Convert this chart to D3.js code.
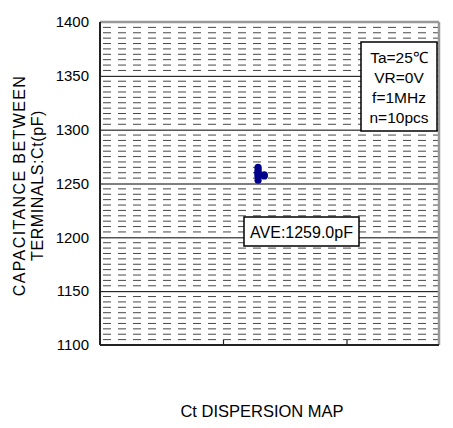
<!DOCTYPE html>
<html>
<head>
<meta charset="utf-8">
<script src="https://cdn.jsdelivr.net/npm/d3@7"></script>
<style>
  body { margin: 0; background: #fff; }
  svg text { font-family: "Liberation Sans", Arial, sans-serif; fill: #000; }
</style>
</head>
<body>
<div id="chart"></div>
<script>
// measured capacitance of the 10 samples (pF) and their x position in the map
const ctValues = [1265, 1263, 1261, 1260, 1259, 1258, 1258, 1257, 1256, 1253];
const sampleX = [1.28, 1.28, 1.28, 1.28, 1.28, 1.33, 1.28, 1.33, 1.28, 1.28];
const yTicks = [1100, 1150, 1200, 1250, 1300, 1350, 1400];
const xTicks = [1, 2];
const conditions = ['Ta=25\u2103', 'VR=0V', 'f=1MHz', 'n=10pcs'];
const aveLabel = 'AVE:1259.0pF';

const width = 453, height = 428;
const margin = { top: 22, right: 14, bottom: 83, left: 100 };

const svg = d3.select('#chart').append('svg')
  .attr('width', width)
  .attr('height', height);

const x = d3.scaleLinear()
  .domain([0, 2.745])
  .range([margin.left, width - margin.right]);

const y = d3.scaleLinear()
  .domain([1100, 1400])
  .range([height - margin.bottom, margin.top]);

// minor dashed grid every 5 pF
const minor = d3.range(1105, 1400, 5).filter(v => v % 50 !== 0);
svg.append('g')
  .selectAll('line')
  .data(minor)
  .join('line')
  .attr('x1', x(0) + 3)
  .attr('x2', x(2.745))
  .attr('y1', d => y(d))
  .attr('y2', d => y(d))
  .attr('stroke', '#333')
  .attr('stroke-width', 0.9)
  .attr('stroke-dasharray', '8,7');

// major solid grid
svg.append('g')
  .selectAll('line')
  .data(yTicks.slice(1, -1))
  .join('line')
  .attr('x1', x(0))
  .attr('x2', x(2.745))
  .attr('y1', d => y(d) + 0.5)
  .attr('y2', d => y(d) + 0.5)
  .attr('stroke', '#000')
  .attr('stroke-width', 1);

// frame: top/right gray, left/bottom dark
svg.append('line').attr('x1', x(0)).attr('x2', x(2.745)).attr('y1', y(1400)).attr('y2', y(1400))
  .attr('stroke', '#999').attr('stroke-width', 2.5);
svg.append('line').attr('x1', x(2.745)).attr('x2', x(2.745)).attr('y1', y(1400)).attr('y2', y(1100))
  .attr('stroke', '#999').attr('stroke-width', 2.5);
svg.append('line').attr('x1', x(0)).attr('x2', x(0)).attr('y1', y(1400)).attr('y2', y(1100))
  .attr('stroke', '#222').attr('stroke-width', 2);
svg.append('line').attr('x1', x(0)).attr('x2', x(2.745)).attr('y1', y(1100)).attr('y2', y(1100))
  .attr('stroke', '#222').attr('stroke-width', 2);

// y axis labels
svg.append('g')
  .attr('transform', `translate(${x(0)},0)`)
  .call(d3.axisLeft(y).tickValues(yTicks).tickSize(0).tickPadding(11).tickFormat(d3.format('d')))
  .call(g => g.select('.domain').remove())
  .call(g => g.selectAll('text').attr('font-size', 15).attr('font-family', '"Liberation Sans", Arial, sans-serif'));

// x ticks (inside, no labels)
svg.append('g')
  .selectAll('line')
  .data(xTicks)
  .join('line')
  .attr('x1', d => x(d))
  .attr('x2', d => x(d))
  .attr('y1', y(1100))
  .attr('y2', y(1100) - 5)
  .attr('stroke', '#222')
  .attr('stroke-width', 1.2);

// data points
svg.append('g')
  .selectAll('circle')
  .data(ctValues)
  .join('circle')
  .attr('cx', (d, i) => x(sampleX[i]))
  .attr('cy', d => y(d))
  .attr('r', 3.6)
  .attr('fill', '#00008b');

// conditions box
const cb = svg.append('g').attr('transform', 'translate(361,42)');
cb.append('rect').attr('width', 76).attr('height', 89)
  .attr('fill', '#fff').attr('stroke', '#000').attr('stroke-width', 1.5);
cb.selectAll('text')
  .data(conditions)
  .join('text')
  .attr('x', 38)
  .attr('y', (d, i) => 21 + i * 20)
  .attr('text-anchor', 'middle')
  .attr('font-size', 15.5)
  .text(d => d);

// average box
const ab = svg.append('g').attr('transform', 'translate(244,217)');
ab.append('rect').attr('width', 115).attr('height', 29)
  .attr('fill', '#fff').attr('stroke', '#000').attr('stroke-width', 1.5);
ab.append('text')
  .attr('x', 57.5)
  .attr('y', 21)
  .attr('text-anchor', 'middle')
  .attr('font-size', 16)
  .text(aveLabel);

// y axis title (two lines)
const cy = (y(1100) + y(1400)) / 2 + 2;
svg.append('text')
  .attr('transform', `translate(25,${cy}) rotate(-90)`)
  .attr('text-anchor', 'middle')
  .attr('font-size', 16)
  .attr('letter-spacing', 1.4)
  .text('CAPACITANCE BETWEEN');
svg.append('text')
  .attr('transform', `translate(43,${cy}) rotate(-90)`)
  .attr('text-anchor', 'middle')
  .attr('font-size', 16)
  .attr('letter-spacing', 0.6)
  .text('TERMINALS:Ct(pF)');

// x axis title
svg.append('text')
  .attr('x', 262)
  .attr('y', 417)
  .attr('text-anchor', 'middle')
  .attr('font-size', 16.5)
  .text('Ct DISPERSION MAP');
</script>
</body>
</html>
